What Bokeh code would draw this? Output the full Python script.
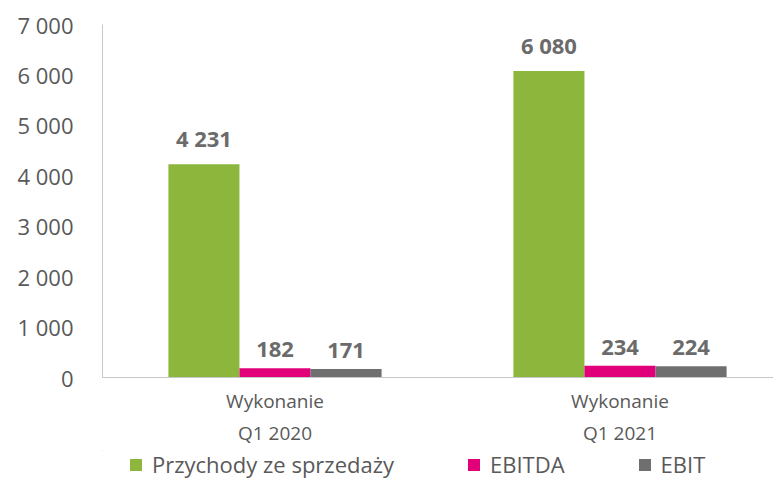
from bokeh.plotting import figure
from bokeh.layouts import column
from bokeh.models import ColumnDataSource, FixedTicker, LinearAxis, Legend, LegendItem, Range1d
from bokeh.core.properties import value
from bokeh.embed import file_html
from bokeh.resources import INLINE

# ---- data ----
period_line1 = ["Wykonanie", "Wykonanie"]
period_line2 = ["Q1 2020", "Q1 2021"]
series_names = ["Przychody ze sprzedaży", "EBITDA", "EBIT"]
revenue = [4231, 6080]
ebitda = [182, 234]
ebit = [171, 224]
y_ticks = [0, 1000, 2000, 3000, 4000, 5000, 6000, 7000]
y_tick_labels = ["0", "1 000", "2 000", "3 000", "4 000", "5 000", "6 000", "7 000"]

# ---- style ----
colors = ["#8cb63c", "#e2007a", "#6f6f6f"]
FONT = "Open Sans"
TXT = "#595959"
group_centers = [i + 0.5 for i in range(len(period_line2))]
bar_w = 0.206
offsets = [-bar_w, 0.0, bar_w]

def fmt(v):
    return f"{v:,}".replace(",", " ")

W, H = 773, 450
FW = W - 102
p = figure(width=W, height=H,
           x_range=Range1d(0, FW / 345), y_range=Range1d(0, 7000),
           output_backend="svg", toolbar_location=None,
           min_border_left=102, min_border_right=0, min_border_top=24,
           min_border_bottom=H - 24 - 353)
p.outline_line_color = None
p.xgrid.grid_line_color = None
p.ygrid.grid_line_color = None
p.background_fill_color = "white"
p.border_fill_color = "white"

series_vals = [revenue, ebitda, ebit]
for vals, off, col in zip(series_vals, offsets, colors):
    xs = [c + off for c in group_centers]
    src = ColumnDataSource(dict(x=xs, top=vals, label=[fmt(v) for v in vals]))
    p.vbar(x="x", top="top", width=bar_w, source=src, fill_color=col, line_color=None)
    p.text(x="x", y="top", text="label", source=src, text_align="center",
           text_baseline="bottom", y_offset=-11, text_font=value(FONT),
           text_font_size="22px", text_font_style="bold", text_color="#6b6b6b")

# y axis
ya = p.yaxis[0]
ya.ticker = FixedTicker(ticks=y_ticks)
ya.major_label_overrides = {t: l for t, l in zip(y_ticks, y_tick_labels)}
ya.axis_line_color = "#c8c8c8"
ya.major_tick_line_color = None
ya.minor_tick_line_color = None
ya.major_label_standoff = 23
ya.major_label_text_font = FONT
ya.major_label_text_font_size = "22px"
ya.major_label_text_color = TXT

def style_x(ax, standoff):
    ax.ticker = FixedTicker(ticks=group_centers)
    ax.major_tick_line_color = None
    ax.minor_tick_line_color = None
    ax.major_tick_out = 0
    ax.major_tick_in = 0
    ax.minor_tick_out = 0
    ax.axis_label_standoff = 0
    ax.major_label_standoff = standoff
    ax.major_label_text_font = FONT
    ax.major_label_text_font_size = "19px"
    ax.major_label_text_color = TXT

# x axis line 1
xa = p.xaxis[0]
style_x(xa, 10)
xa.major_label_overrides = {c: l for c, l in zip(group_centers, period_line1)}
xa.axis_line_color = "#c8c8c8"

# x axis line 2
xa2 = LinearAxis()
style_x(xa2, 3)
xa2.major_label_overrides = {c: l for c, l in zip(group_centers, period_line2)}
xa2.axis_line_color = None
p.add_layout(xa2, "below")

# ---- legend strip (proxy glyphs lie entirely outside its visible ranges) ----
lg = figure(width=W, height=28, x_range=Range1d(100, 101), y_range=Range1d(-2, -1),
            x_axis_type=None, y_axis_type=None, output_backend="svg",
            toolbar_location=None, min_border=0)
lg.outline_line_color = None
lg.xgrid.grid_line_color = None
lg.ygrid.grid_line_color = None
lg.border_fill_color = "white"
lg.background_fill_color = "white"
lg_renderers = [lg.vbar(x=[group_centers[0]], top=[vals[0]], width=bar_w,
                        fill_color=c, line_color=None)
                for vals, c in zip(series_vals, colors)]

legend = Legend(items=[LegendItem(label=n, renderers=[r]) for n, r in zip(series_names, lg_renderers)],
                orientation="horizontal", location="center_left")
legend.border_line_color = None
legend.background_fill_alpha = 0
legend.padding = 0
legend.margin = 26
legend.spacing = 72
legend.glyph_width = 15
legend.glyph_height = 15
legend.label_height = 15
legend.label_standoff = 9
legend.label_text_font = FONT
legend.label_text_font_size = "22px"
legend.label_text_color = TXT
lg.add_layout(legend, "center")

layout = column(p, lg, spacing=0)
open("out.html", "w").write(file_html(layout, INLINE))
